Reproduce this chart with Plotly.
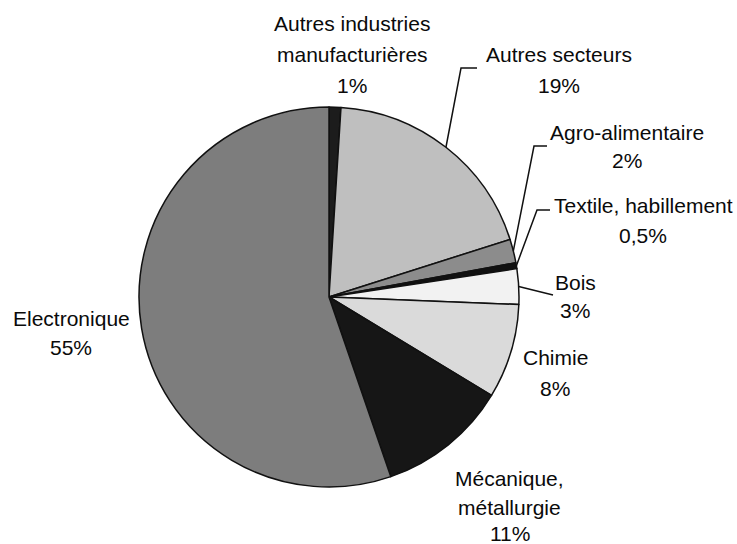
import math
import plotly.graph_objects as go

# ---- data ----
categories = ["Autres industries manufacturières", "Autres secteurs", "Agro-alimentaire",
              "Textile, habillement", "Bois", "Chimie", "Mécanique, métallurgie", "Electronique"]
values = [1, 19, 2, 0.5, 3, 8, 11, 55]
name_lines = [["Autres industries", "manufacturières"], ["Autres secteurs"], ["Agro-alimentaire"],
              ["Textile, habillement"], ["Bois"], ["Chimie"], ["Mécanique,", "métallurgie"], ["Electronique"]]
pct_labels = ["1%", "19%", "2%", "0,5%", "3%", "8%", "11%", "55%"]

# ---- styles / layout ----
colors = ["#1c1c1c", "#bfbfbf", "#8c8c8c", "#111111", "#f2f2f2", "#dadada", "#161616", "#7d7d7d"]
W, H = 737, 544
cx, cy, R = 329, 297, 190

# label text positions (px): x centre, y of each line
label_pos = [
    (352, [24, 55, 85]),
    (559, [55, 85]),
    (627, [132, 160]),
    (643, [205, 235]),
    (575, [282, 310]),
    (555, [357, 388]),
    (510, [478, 507, 533]),
    (71, [318, 347]),
]
# leader line bends (px) for labels that have one
leaders = {1: [(461, 68), (477, 68)], 2: [(534, 146), (547, 146)],
           3: [(537, 210), (550, 210)], 4: [(553, 295)]}


def px(x, y):
    return x / W, 1 - y / H


fig = go.Figure(go.Pie(
    labels=categories, values=values, sort=False, direction="clockwise", rotation=0,
    marker=dict(colors=colors, line=dict(color="#111111", width=1.5)),
    textinfo="none", hoverinfo="label+percent", showlegend=False,
    domain=dict(x=[(cx - R) / W, (cx + R) / W], y=[(H - cy - R) / H, (H - cy + R) / H]),
))

font = dict(family="Arial, Liberation Sans, sans-serif", size=21, color="#0a0a0a")
annotations = []
for i, (xc, ys) in enumerate(label_pos):
    lines = name_lines[i] + [pct_labels[i]]
    for txt, yy in zip(lines, ys):
        x, y = px(xc, yy)
        annotations.append(dict(x=x, y=y, xref="paper", yref="paper", text=txt, showarrow=False,
                                xanchor="center", yanchor="middle", font=font))

total = sum(values)
shapes = []
cum = 0
for i, v in enumerate(values):
    mid = (cum + v / 2) / total * 2 * math.pi
    cum += v
    if i in leaders:
        sx = cx + R * math.sin(mid)
        sy = cy - R * math.cos(mid)
        pts = [(sx, sy)] + leaders[i]
        path = "M " + " L ".join("{:.5f},{:.5f}".format(*px(a, b)) for a, b in pts)
        shapes.append(dict(type="path", path=path, xref="paper", yref="paper",
                           line=dict(color="#111111", width=1.5)))

fig.update_layout(width=W, height=H, margin=dict(l=0, r=0, t=0, b=0),
                  paper_bgcolor="white", plot_bgcolor="white",
                  annotations=annotations, shapes=shapes)
fig.write_html("out.html", config={"displayModeBar": False},
               post_script="document.body.style.margin='0';document.body.style.overflow='hidden';")
